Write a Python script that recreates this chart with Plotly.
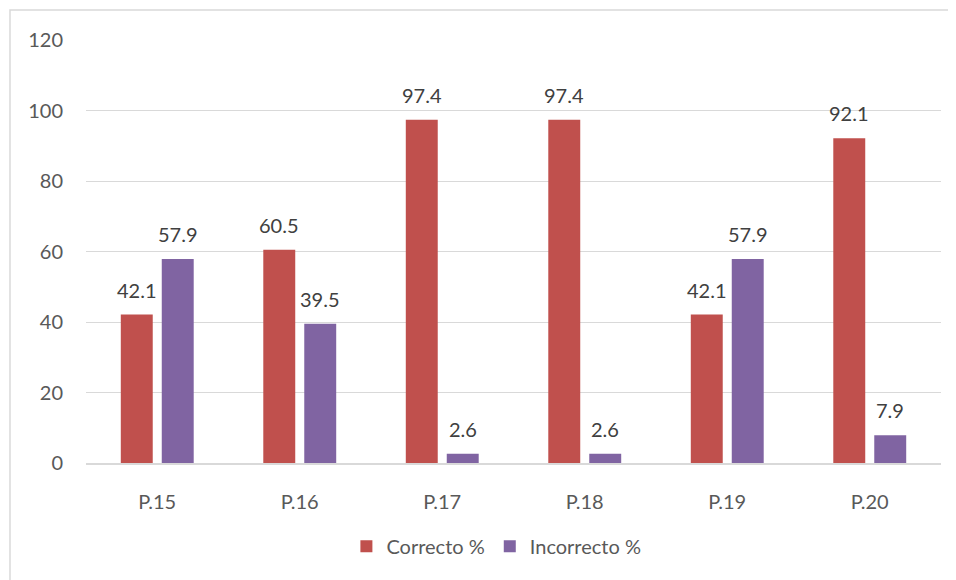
import plotly.graph_objects as go

categories = ["P.15", "P.16", "P.17", "P.18", "P.19", "P.20"]
correcto = [42.1, 60.5, 97.4, 97.4, 42.1, 92.1]
incorrecto = [57.9, 39.5, 2.6, 2.6, 57.9, 7.9]
y_ticks = [0, 20, 40, 60, 80, 100, 120]

RED = "#C0504D"
PURPLE = "#8064A2"
TXT = "#404040"
AXTXT = "#595959"
FONT = "Lato, 'Noto Sans', sans-serif"
FS = 20

fig = go.Figure()
fig.add_trace(go.Bar(x=categories, y=correcto, name="Correcto %", marker=dict(color=RED, line=dict(width=0))))
fig.add_trace(go.Bar(x=categories, y=incorrecto, name="Incorrecto %", marker=dict(color=PURPLE, line=dict(width=0))))

annotations = []
for cat, v in zip(categories, correcto):
    annotations.append(dict(x=cat, y=v, text=f"{v:.1f}", showarrow=False, xshift=-20.5, yshift=25,
                            yanchor="middle", font=dict(size=FS, color=TXT, family=FONT)))
for cat, v in zip(categories, incorrecto):
    annotations.append(dict(x=cat, y=v, text=f"{v:.1f}", showarrow=False, xshift=20.5, yshift=25,
                            yanchor="middle", font=dict(size=FS, color=TXT, family=FONT)))

# page body adds an 8px offset; plot area spans x 86..941, y 40..463 in the final image
fig.update_layout(
    width=948, height=572,
    margin=dict(l=78, r=15, t=32, b=117),
    paper_bgcolor="white", plot_bgcolor="white",
    barmode="group", bargap=0.425, bargroupgap=0.22,
    font=dict(family=FONT, size=FS, color=AXTXT),
    showlegend=True,
    legend=dict(orientation="h", x=0.48, xanchor="center", y=-0.197, yanchor="middle",
                font=dict(size=FS, color=AXTXT), itemwidth=30, traceorder="normal"),
    annotations=annotations,
    shapes=[dict(type="rect", xref="paper", yref="paper", x0=-0.0889, x1=1.2, y0=-0.6, y1=1.0709,
                 line=dict(color="#d9d9d9", width=1.5), layer="below")],
)
fig.update_xaxes(showgrid=False, showline=True, linecolor="#d9d9d9", linewidth=2,
                 ticks="", ticklabelstandoff=20, tickfont=dict(size=FS, color=AXTXT))
fig.update_yaxes(range=[0, 120], tickvals=y_ticks, showgrid=True, gridcolor="#d9d9d9", gridwidth=1.3,
                 zeroline=False, showline=False, ticks="", ticklabelstandoff=22,
                 tickfont=dict(size=FS, color=AXTXT))

fig.write_html("out.html")
